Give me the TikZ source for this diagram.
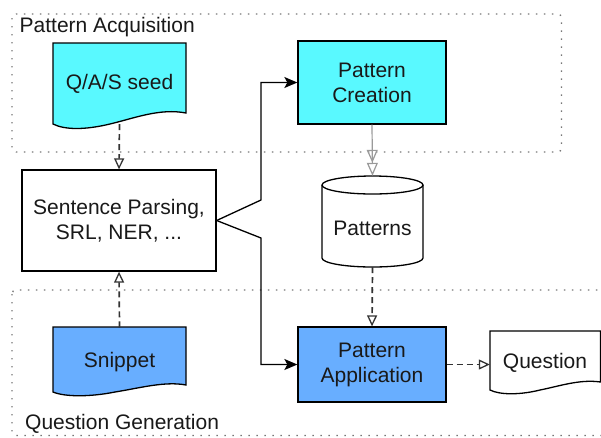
\documentclass[tikz,border=0pt]{standalone}
\usepackage{fontspec}
\setmainfont{Liberation Sans}
\usetikzlibrary{arrows.meta}
\definecolor{cyanf}{HTML}{59F9FF}
\definecolor{bluef}{HTML}{68AEFF}
\definecolor{dotgray}{HTML}{777777}
\definecolor{dashgray}{HTML}{333333}
\definecolor{lightgray}{HTML}{9A9A9A}
\tikzset{
  lbl/.style={font=\fontsize{21}{25}\selectfont, align=center, inner sep=0pt, text=black!90},
  boxnode/.style={lbl, draw=black, line width=1.3pt, rectangle},
  areanode/.style={rectangle, draw=none, inner sep=0pt},
  docshape/.style={draw=black, line width=1.3pt},
  grouparea/.style={draw=dotgray, line width=1.4pt, dash pattern=on 1.4pt off 6.6pt, rounded corners=4pt},
  dasharrow/.style={draw=dashgray, line width=1.7pt, dash pattern=on 6pt off 4pt, -{Triangle[open, length=11pt, width=10pt, line width=1.3pt]}},
  solidarrow/.style={draw=black, line width=1.3pt, -{Stealth[length=13pt, width=11pt, inset=3pt]}},
  grayarrow/.style={draw=lightgray, line width=1.2pt, -{Triangle[open, length=13pt, width=11pt, line width=1.2pt]Triangle[open, length=13pt, width=11pt, line width=1.2pt]}}
}
\begin{document}
\begin{tikzpicture}[x=1pt, y=-1pt]
\useasboundingbox (0,0) rectangle (601,437);
\clip (0,0) rectangle (601,437);
\fill[white] (0,0) rectangle (601,437);

% group areas
\draw[grouparea] (12,14) rectangle (561.5,152);
\draw[grouparea] (12,290) rectangle (640,435.5);
\node[lbl, anchor=west] (acqlabel) at (19.5,27.5) {Pattern Acquisition};
\node[lbl, anchor=west] (genlabel) at (25,424) {Question Generation};

% Q/A/S seed document
\fill[cyanf] (53,43) -- (186,43) -- (186,113) .. controls (160,108) and (135,118) .. (110,124) .. controls (85,130) and (65,130) .. (53,124) -- cycle;
\draw[docshape] (53,43) -- (186,43) -- (186,113) .. controls (160,108) and (135,118) .. (110,124) .. controls (85,130) and (65,130) .. (53,124) -- cycle;
\node[areanode, lbl, minimum width=133pt, minimum height=81pt] (seed) at (119.5,83.5) {Q/A/S seed};

% Snippet document
\fill[bluef] (53,327) -- (186,327) -- (186,385) .. controls (165,381) and (140,388) .. (115,392) .. controls (90,397) and (65,397) .. (53,392) -- cycle;
\draw[docshape] (53,327) -- (186,327) -- (186,385) .. controls (165,381) and (140,388) .. (115,392) .. controls (90,397) and (65,397) .. (53,392) -- cycle;
\node[areanode, lbl, minimum width=133pt, minimum height=70pt] (snippet) at (119.5,362.5) {Snippet};

% Question document
\fill[white] (490,331) -- (600.5,331) -- (600.5,382) .. controls (580,379) and (560,386) .. (540,390) .. controls (520,395) and (500,395) .. (490,390) -- cycle;
\draw[docshape] (490,331) -- (600.5,331) -- (600.5,382) .. controls (580,379) and (560,386) .. (540,390) .. controls (520,395) and (500,395) .. (490,390) -- cycle;
\node[areanode, lbl, minimum width=110pt, minimum height=64pt] (question) at (545,363) {Question};

% boxes
\node[boxnode, fill=white, minimum width=194pt, minimum height=101pt] (sentence) at (119,220.5) {Sentence Parsing,\\SRL, NER, ...};
\node[boxnode, fill=cyanf, minimum width=148pt, minimum height=83pt] (create) at (372,82.5) {Pattern\\Creation};
\node[boxnode, fill=bluef, minimum width=148pt, minimum height=75pt] (apply) at (372,364.5) {Pattern\\Application};

% Patterns cylinder
\fill[white] (322,185) -- (322,258) .. controls (322,262.97) and (344.6,267) .. (372.5,267) .. controls (400.4,267) and (423,262.97) .. (423,258) -- (423,185) -- cycle;
\draw[line width=1.3pt] (322,185) -- (322,258) .. controls (322,262.97) and (344.6,267) .. (372.5,267) .. controls (400.4,267) and (423,262.97) .. (423,258) -- (423,185);
\draw[line width=1.3pt, fill=white] (372.5,185) ellipse [x radius=50.5pt, y radius=9pt];
\node[areanode, minimum width=101pt, minimum height=91pt] (patterns) at (372.5,221.5) {};
\node[lbl] (patternstext) at (372.5,228) {Patterns};

% connectors
\coordinate (j1) at (261,200);
\coordinate (j2) at (261,238);
\draw[dasharrow] (seed.south) -- (sentence.north);
\draw[dasharrow] (snippet.north) -- (sentence.south);
\draw[solidarrow] (sentence.east) -- (j1) |- (create.west);
\draw[solidarrow] (sentence.east) -- (j2) |- (apply.west);
\draw[grayarrow] (create.south) -- (patterns.north);
\draw[dasharrow] (patterns.south) -- (apply.north);
\draw[dasharrow] (apply.east) -- (apply.east -| question.west);
\end{tikzpicture}
\end{document}
